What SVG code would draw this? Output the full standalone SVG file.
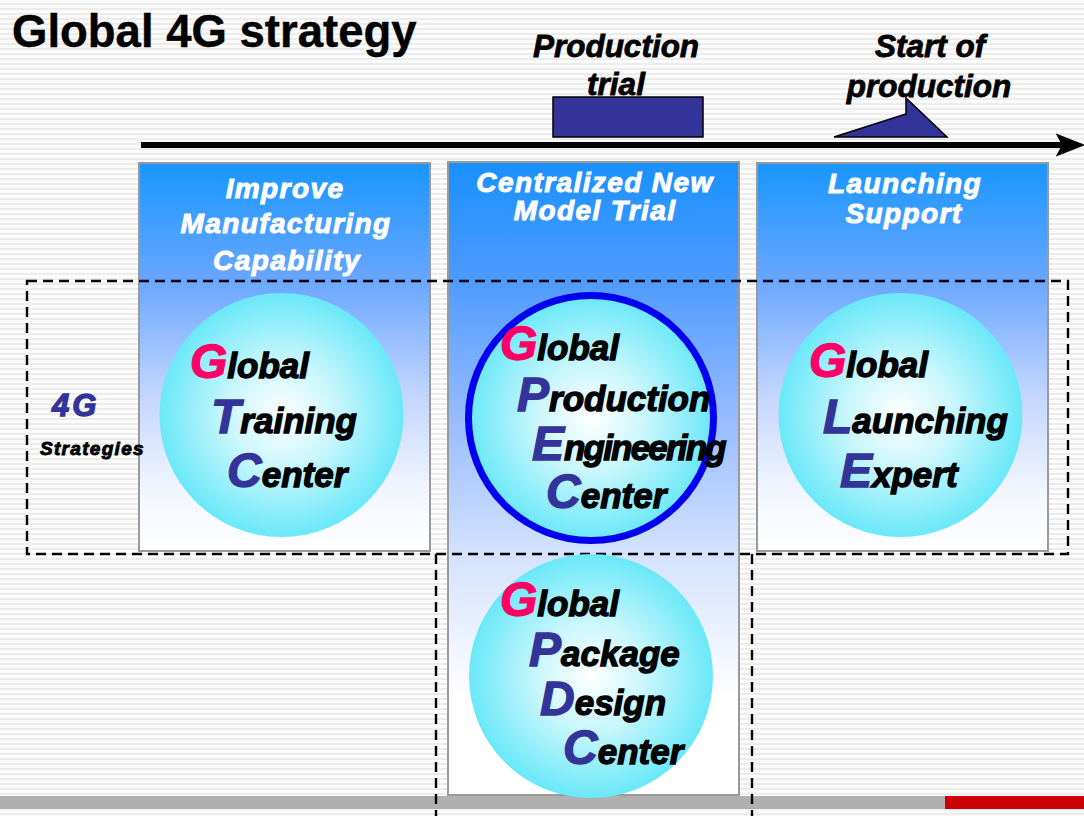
<svg xmlns="http://www.w3.org/2000/svg" width="1084" height="816" viewBox="0 0 1084 816">
<defs>
<pattern id="stripes" width="10" height="5" patternUnits="userSpaceOnUse">
<rect width="10" height="5" fill="#fbfbfb"/>
<rect y="3" width="10" height="2" fill="#ececec"/>
</pattern>
<linearGradient id="colA" x1="0" y1="0" x2="0" y2="1">
<stop offset="0" stop-color="#1896ff"/>
<stop offset="0.3" stop-color="#68a6ff"/>
<stop offset="0.6" stop-color="#c4d6ff"/>
<stop offset="0.85" stop-color="#f2f6ff"/>
<stop offset="1" stop-color="#ffffff"/>
</linearGradient>
<linearGradient id="colB" x1="0" y1="0" x2="0" y2="1">
<stop offset="0" stop-color="#1890ff"/>
<stop offset="0.18" stop-color="#4c9aff"/>
<stop offset="0.42" stop-color="#9cbeff"/>
<stop offset="0.62" stop-color="#d4e2ff"/>
<stop offset="0.85" stop-color="#ffffff"/>
<stop offset="1" stop-color="#ffffff"/>
</linearGradient>
<radialGradient id="ball" cx="0.5" cy="0.5" r="0.5">
<stop offset="0" stop-color="#ffffff"/>
<stop offset="0.45" stop-color="#c8f6fc"/>
<stop offset="1" stop-color="#6ae8f8"/>
</radialGradient>
<marker id="arrow" markerUnits="userSpaceOnUse" markerWidth="30" markerHeight="24" viewBox="0 0 28 22" refX="6" refY="11" orient="auto">
<path d="M0,0 L28,11 L0,22 L6,11 z" fill="#000"/>
</marker>
<style>
text{font-family:"Liberation Sans",Arial,sans-serif;font-weight:bold}
.it{font-style:italic}
.head{fill:#fff;stroke:#fff;stroke-width:1;font-size:28px;font-style:italic;letter-spacing:1.4px;text-anchor:middle}
.tl{fill:#000;stroke:#000;stroke-width:0.8;font-style:italic;text-anchor:middle}
.big{font-size:48px}
.sm{font-size:35px;fill:#000;stroke:#000;stroke-width:1.3}
.pink{fill:#ff0066;stroke:#ff0066;stroke-width:1.3}
.navy{fill:#333399;stroke:#333399;stroke-width:1.3}
.col{stroke:#9a9a9a;stroke-width:2}
.dash{fill:none;stroke:#000;stroke-width:2.4;stroke-dasharray:10 6}
</style>
</defs>

<g id="background">
<rect width="1084" height="816" fill="url(#stripes)"/>
<rect x="0" y="796" width="1084" height="13" fill="#b0b0b0"/>
<rect x="945" y="796" width="139" height="13" fill="#cc0000"/>
</g>

<g id="title">
<text x="12" y="47" font-size="45.5" fill="#000" stroke="#000" stroke-width="0.4">Global 4G strategy</text>
</g>

<g id="connectors">
<line x1="141" y1="145" x2="1062" y2="145" stroke="#000" stroke-width="6" marker-end="url(#arrow)"/>
</g>

<g id="production-trial">
<rect x="553" y="97" width="150" height="40" fill="#333399" stroke="#000" stroke-width="1.5"/>
<text class="tl" x="616" y="57" font-size="31.5">Production</text>
<text class="tl" x="616" y="95" font-size="31.5">trial</text>
</g>

<g id="start-of-production">
<polygon points="834,137 906,114 906,98 947,137" fill="#333399" stroke="#000" stroke-width="1.5"/>
<text class="tl" x="930" y="57" font-size="31.5">Start of</text>
<text class="tl" x="929" y="97" font-size="31.5">production</text>
</g>

<g id="col-improve">
<rect class="col" x="139" y="163" width="291" height="388" fill="url(#colA)"/>
<text class="head" x="285" y="198">Improve</text>
<text class="head" x="286" y="233">Manufacturing</text>
<text class="head" x="287" y="270">Capability</text>
</g>

<g id="col-centralized">
<rect class="col" x="448" y="162" width="291" height="633" fill="url(#colB)"/>
<text class="head" x="595" y="192">Centralized  New</text>
<text class="head" x="595" y="220">Model Trial</text>
</g>

<g id="col-launching">
<rect class="col" x="757" y="163" width="291" height="388" fill="url(#colA)"/>
<text class="head" x="905" y="193">Launching</text>
<text class="head" x="904" y="223">Support</text>
</g>

<g id="dashed-frames">
<rect class="dash" x="27" y="281" width="1041" height="273"/>
<line class="dash" x1="436" y1="554" x2="436" y2="816"/>
<line class="dash" x1="752" y1="554" x2="752" y2="816"/>
</g>

<g id="label-4g">
<text class="it navy" x="52" y="416" font-size="31" letter-spacing="3">4G</text>
<text class="it" x="40" y="455" font-size="19" fill="#000" stroke="#000" stroke-width="0.9" letter-spacing="1.3">Strategies</text>
</g>

<g id="gtc">
<circle cx="281.5" cy="415" r="122" fill="url(#ball)"/>
<text class="it" x="190" y="378"><tspan class="big pink">G</tspan><tspan class="sm">lobal</tspan></text>
<text class="it" x="211" y="433"><tspan class="big navy">T</tspan><tspan class="sm">raining</tspan></text>
<text class="it" x="227" y="487"><tspan class="big navy">C</tspan><tspan class="sm">enter</tspan></text>
</g>

<g id="gpec">
<circle cx="591" cy="418" r="122.5" fill="url(#ball)" stroke="#0000ee" stroke-width="7"/>
<text class="it" x="500" y="360"><tspan class="big pink">G</tspan><tspan class="sm">lobal</tspan></text>
<text class="it" x="517" y="411"><tspan class="big navy">P</tspan><tspan class="sm">roduction</tspan></text>
<text class="it" x="532" y="460"><tspan class="big navy">E</tspan><tspan class="sm" letter-spacing="-1.8">ngineering</tspan></text>
<text class="it" x="546" y="508"><tspan class="big navy">C</tspan><tspan class="sm">enter</tspan></text>
</g>

<g id="gle">
<circle cx="900.5" cy="415" r="122" fill="url(#ball)"/>
<text class="it" x="809" y="377"><tspan class="big pink">G</tspan><tspan class="sm">lobal</tspan></text>
<text class="it" x="823" y="433"><tspan class="big navy">L</tspan><tspan class="sm">aunching</tspan></text>
<text class="it" x="840" y="487"><tspan class="big navy">E</tspan><tspan class="sm">xpert</tspan></text>
</g>

<g id="gpdc">
<circle cx="591" cy="676" r="122" fill="url(#ball)"/>
<text class="it" x="500" y="616"><tspan class="big pink">G</tspan><tspan class="sm">lobal</tspan></text>
<text class="it" x="529" y="666"><tspan class="big navy">P</tspan><tspan class="sm">ackage</tspan></text>
<text class="it" x="540" y="715"><tspan class="big navy">D</tspan><tspan class="sm">esign</tspan></text>
<text class="it" x="563" y="764"><tspan class="big navy">C</tspan><tspan class="sm">enter</tspan></text>
</g>
</svg>
